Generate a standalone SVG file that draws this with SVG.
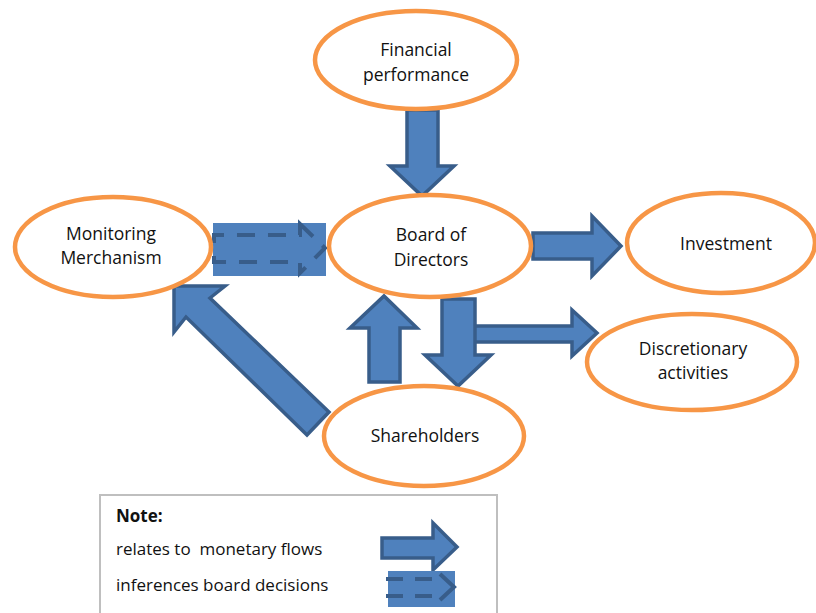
<svg xmlns="http://www.w3.org/2000/svg" width="816" height="613" viewBox="0 0 816 613">
<style>
.node ellipse{fill:#fff;stroke:#f79646;stroke-width:4.5}
.lbl{font-family:"Open Sans","Liberation Sans",sans-serif;font-size:17.5px;fill:#111;text-anchor:middle}
.blk{fill:#4f81bd;stroke:#385d8a;stroke-width:3.5;stroke-linejoin:miter}
.dash{fill:none;stroke:#385d8a;stroke-width:4;stroke-dasharray:18 13}
.leg{font-family:"Open Sans","Liberation Sans",sans-serif;font-size:17px;fill:#111;white-space:pre}
</style>
<rect width="816" height="613" fill="#fff"/>

<g id="connectors">
  <path class="blk" d="M407,110 L438,110 L438,166 L454,166 L422,196 L390,166 L407,166 Z"/>
  <path class="blk" d="M533,233 L592,233 L592,216 L621,246 L592,276 L592,259 L533,259 Z"/>
  <path class="blk" d="M369,382 L369,328 L350,328 L384,296 L417,328 L400,328 L400,382 Z"/>
  <path class="blk" d="M470,326 L572,326 L572,310 L597,333 L572,356 L572,342 L470,342 Z"/>
  <path class="blk" d="M442,299 L475,299 L475,355 L491,355 L458,386 L425,355 L442,355 Z"/>
  <path class="blk" d="M174,286 L225,286 L210,298 L329,412 L307,435 L186,317 L174,332 Z"/>
  <g id="dashed-arrow">
    <rect x="213" y="223" width="113" height="53" fill="#4f81bd"/>
    <path class="dash" d="M300,224 L325,248 L300,273 L300,262 L214,262 L214,235 L300,235 Z"/>
  </g>
</g>

<g id="financial" class="node">
  <ellipse cx="416" cy="60" rx="101" ry="49"/>
  <text class="lbl" x="416" y="56">Financial</text>
  <text class="lbl" x="416" y="81">performance</text>
</g>
<g id="monitoring" class="node">
  <ellipse cx="113" cy="247" rx="98" ry="50"/>
  <text class="lbl" x="111" y="240">Monitoring</text>
  <text class="lbl" x="111" y="264">Merchanism</text>
</g>
<g id="board" class="node">
  <ellipse cx="430" cy="246" rx="101" ry="51"/>
  <text class="lbl" x="431" y="241">Board of</text>
  <text class="lbl" x="431" y="266">Directors</text>
</g>
<g id="investment" class="node">
  <ellipse cx="721" cy="243" rx="94" ry="50"/>
  <text class="lbl" x="726" y="250">Investment</text>
</g>
<g id="discretionary" class="node">
  <ellipse cx="692" cy="362" rx="105" ry="48"/>
  <text class="lbl" x="693" y="355">Discretionary</text>
  <text class="lbl" x="693" y="379">activities</text>
</g>
<g id="shareholders" class="node">
  <ellipse cx="424" cy="436" rx="100" ry="50"/>
  <text class="lbl" x="425" y="442">Shareholders</text>
</g>

<g id="legend">
  <rect x="100" y="495" width="397" height="130" fill="#fff" stroke="#bfbfbf" stroke-width="2"/>
  <text class="leg" x="116" y="522" font-weight="bold">Note:</text>
  <text class="leg" x="116" y="555">relates to  monetary flows</text>
  <text class="leg" x="116" y="591">inferences board decisions</text>
  <path class="blk" d="M382,538 L433,538 L433,523 L457,547 L433,570 L433,558 L382,558 Z"/>
  <rect x="388" y="571" width="67" height="36" fill="#4f81bd"/>
  <path fill="none" stroke="#385d8a" stroke-width="4" stroke-dasharray="17 12" d="M386,579 L438,579 M386,596 L438,596"/>
  <path fill="none" stroke="#385d8a" stroke-width="4" d="M440,574 L454,587 L440,600"/>
</g>
</svg>
